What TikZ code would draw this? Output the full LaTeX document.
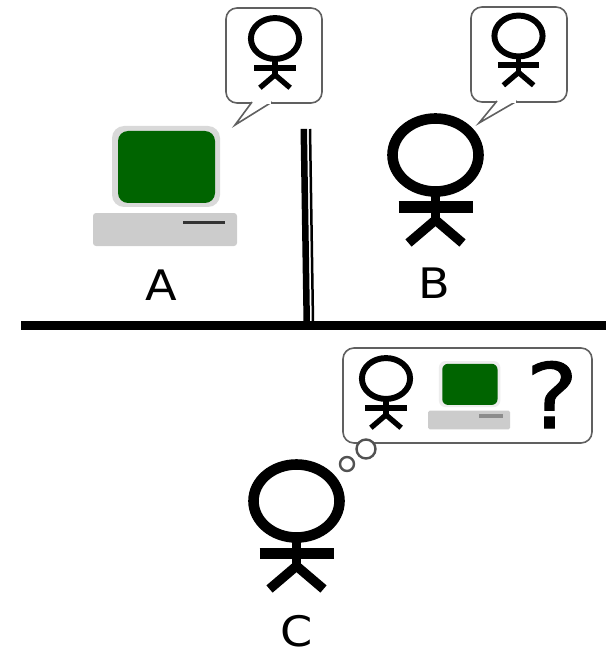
\documentclass[tikz,border=0pt]{standalone}
\usepackage{fontspec}
\setmainfont[FakeStretch=1.1]{DejaVu Sans}
\newfontfamily\qfont[FakeStretch=1.1,FakeBold=1.2]{DejaVu Sans}
\definecolor{screen}{HTML}{006400}
\definecolor{case}{HTML}{CCCCCC}
\definecolor{bubbleline}{HTML}{606060}
\tikzset{
  bubble/.style={draw=bubbleline,line width=1.6pt,fill=white,rounded corners=11pt},
  tail/.style={draw=bubbleline,line width=1.6pt,fill=white,line join=miter},
  thought/.style={draw=bubbleline!85!black,line width=2.4pt,fill=white},
  label/.style={inner sep=0pt,anchor=base,font=\fontsize{42}{48}\selectfont},
  wall/.style={draw=black,line cap=butt}
}
% #1 head centre x, #2 head centre y, #3 scale
\newcommand{\stickman}[3]{%
  \begin{scope}[shift={(#1,#2)},scale=#3]
    \draw[line width=#3*10.6pt,black] (0,0) ellipse [x radius=43,y radius=36.5];
    \draw[line width=#3*9.5pt,black] (0,37) -- (0,65);
    \draw[line width=#3*11pt,black] (-37,52) -- (37,52);
    \draw[line width=#3*9.5pt,black,line join=miter] (-27,88) -- (0,65) -- (27,88);
  \end{scope}}
% #1 left x of base, #2 top y of monitor, #3 scale, #4 halo colour, #5 slot width, #6 slot colour
\newcommand{\computer}[6]{%
  \begin{scope}[shift={(#1,#2)},scale=#3]
    \fill[#4,rounded corners=#3*12pt] (19,0) rectangle (127,81);
    \fill[screen,rounded corners=#3*10pt] (25,5) rectangle (122,77);
    \fill[case,rounded corners=#3*3pt] (0,87) rectangle (144,120);
    \draw[line width=#5,#6] (90,96) -- (132,96);
  \end{scope}}
\begin{document}
\begin{tikzpicture}[x=1pt,y=-1pt]
\useasboundingbox (0,0) rectangle (612,652);
% Bubbles
\draw[bubble] (226,8) rectangle (322,103);
\draw[tail] (252,102) -- (235,125) -- (272,102);
\fill[white] (252.8,101.5) rectangle (271,104);
\draw[bubble] (471,7) rectangle (567,102);
\draw[tail] (497,101) -- (479,123) -- (517,101);
\fill[white] (497.8,100.5) rectangle (516,103);
\draw[bubble] (343,348) rectangle (592,443);
\draw[thought] (366,449) circle [radius=9.5];
\draw[thought] (347,464) circle [radius=7];
% People
\stickman{435.5}{155}{1}
\stickman{296.5}{501}{1}
\stickman{275}{38.5}{0.56}
\stickman{518.5}{36}{0.56}
\stickman{386}{378.5}{0.56}
% Computers
\computer{93}{126}{1}{case!75!white}{3pt}{black!80}
\computer{428}{361}{0.57}{case!35!white}{4pt}{black!45}
% Walls
\fill[black] (300.5,129) -- (307,129) -- (310,322) -- (303.5,322) -- cycle;
\coordinate (thinTop) at (310,129);
\coordinate (thinBottom) at (313,322);
\draw[wall,line width=2.5pt] (thinTop) -- (thinBottom);
\coordinate (floorL) at (21,325.5);
\coordinate (floorR) at (606,325.5);
\draw[wall,line width=9pt] (floorL) -- (floorR);
% Labels
\node[label] (la) at (161,300) {A};
\node[label] (lb) at (434,298) {B};
\node[label] (lc) at (297,646) {C};
\node[inner sep=0pt,anchor=base,font=\fontsize{90}{100}\qfont] (q) at (552,428) {?};
\end{tikzpicture}
\end{document}
